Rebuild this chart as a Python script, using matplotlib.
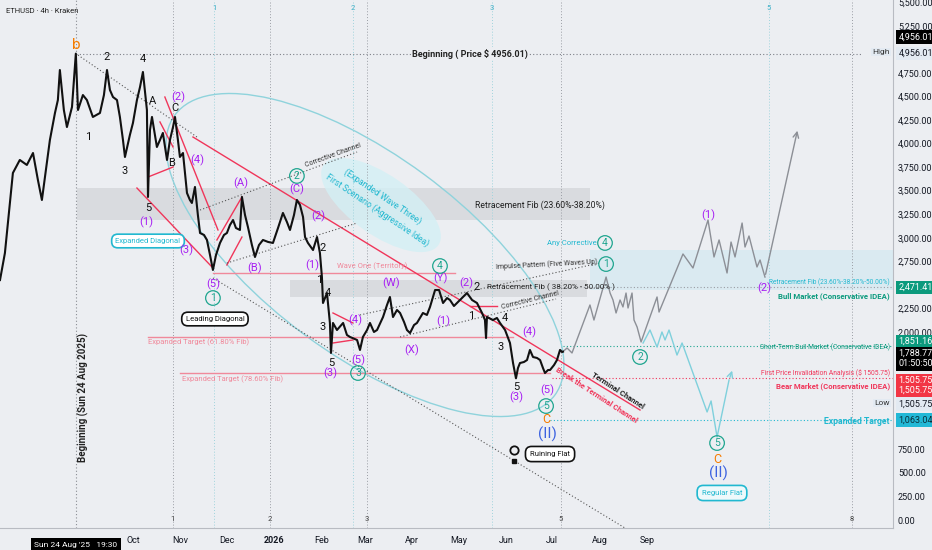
import matplotlib.pyplot as plt
from matplotlib.patches import Ellipse, Rectangle
from matplotlib.transforms import blended_transform_factory, IdentityTransform

plt.rcParams['font.family'] = ['Roboto', 'DejaVu Sans']

# ETHUSD 4h (Kraken) - x is days from 1 Oct 2025, y is USD
price_day = [-86.6, -83.4, -82.1, -78.2, -73.7, -69.1, -65.1, -61.9, -59.3, -56.7,
             -54.1, -50.8, -48.9, -47.6, -45.0, -43.0, -39.7, -37.2, -35.8, -32.6,
             -30.0, -26.1, -21.5, -18.9, -16.9, -15.0, -13.0, -10.4, -8.5, -6.5,
             -5.2, -2.0, 0.0, 2.6, 4.6, 6.5, 9.1, 9.8, 11.1, 12.4,
             15.6, 17.6, 19.5, 22.2, 24.1, 26.1, 27.4, 29.3, 30.6, 32.6,
             35.2, 37.1, 38.4, 40.4, 42.3, 43.7, 46.3, 48.2, 50.2, 52.1,
             54.1, 56.7, 59.3, 61.2, 63.2, 65.2, 67.1, 69.7, 71.0, 73.0,
             74.9, 77.5, 79.5, 82.1, 84.7, 88.0, 91.2, 94.5, 97.7, 100.3,
             102.3, 104.9, 106.8, 108.8, 110.8, 112.1, 114.0, 117.3, 119.9, 121.8,
             123.1, 123.8, 126.4, 128.3, 129.0, 130.3, 132.9, 136.9, 139.4, 141.4,
             146.0, 147.9, 149.8, 152.5, 154.4, 157.0, 159.0, 162.9, 165.5, 167.4,
             169.4, 172.0, 174.0, 176.6, 178.5, 180.5, 183.1, 185.0, 188.9, 191.5,
             193.5, 196.8, 199.4, 202.0, 204.6, 206.5, 209.1, 211.1, 215.0, 217.6,
             220.9, 224.1, 227.4, 229.3, 230.0, 230.6, 234.5, 237.1, 239.1, 242.4,
             245.6, 247.6, 249.5, 250.8, 252.1, 254.7, 256.7, 258.6, 260.6, 263.2,
             265.2, 267.1, 268.4, 270.4, 271.7, 274.3, 276.2, 278.2, 279.5, 280.1]
price_usd = [2550, 2837, 3050, 3688, 3826, 3773, 3900, 3613, 3401, 3719,
             4038, 4325, 4463, 4782, 4357, 4176, 4389, 4956, 4357, 4516,
             4463, 4283, 4325, 4516, 4782, 4570, 4495, 4463, 4283, 4038,
             3858, 4091, 4219, 4463, 4601, 4761, 4357, 3433, 4145, 4283,
             3964, 4038, 4113, 3826, 4038, 4176, 4283, 4038, 3858, 3900,
             3475, 3401, 3369, 3539, 3241, 3050, 3029, 2976, 2816, 2657,
             2816, 2944, 3029, 3050, 3135, 3188, 3103, 3082, 3433, 3241,
             3114, 2922, 2795, 2922, 2976, 2955, 2944, 3103, 3263, 3167,
             3082, 3241, 3401, 3348, 3220, 3007, 2944, 2869, 3007, 2837,
             2582, 2306, 2412, 2094, 1775, 2094, 2019, 2094, 1966, 1945,
             1913, 1807, 1945, 2019, 2094, 1998, 2019, 2157, 2285, 2370,
             2157, 2232, 2200, 2104, 2019, 1987, 2072, 2094, 2200, 2179,
             2264, 2444, 2444, 2306, 2359, 2338, 2274, 2306, 2370, 2412,
             2338, 2306, 2200, 2125, 1934, 2157, 2125, 2147, 2094, 2019,
             1881, 1668, 1505.75, 1615, 1668, 1679, 1700, 1807, 1732, 1722,
             1700, 1615, 1562, 1594, 1594, 1647, 1700, 1807, 1785, 1788.77]

# projected paths
bull_day = [280.1, 282.8, 286.0, 297.7, 300.3, 308.2, 310.8, 312.7, 314.7, 317.3,
            319.2, 321.2, 322.5, 325.1, 326.4, 328.4, 331.0, 341.4, 342.7, 358.3,
            364.8, 374.6, 378.5, 381.8, 387.0, 389.6, 392.2, 396.8, 398.7, 401.3,
            406.5, 408.5, 411.7, 433.2]
bull_usd = [1789, 1828, 1775, 2285, 2125, 2582, 2412, 2338, 2200, 2338,
            2264, 2412, 2253, 2412, 2125, 2051, 1892, 2370, 2210, 2827,
            2678, 3188, 2795, 2976, 2625, 2954, 2795, 3156, 2901, 3018,
            2689, 2763, 2582, 4166]
bear_day = [332.3, 336.8, 341.4, 344.6, 346.6, 349.2, 354.4, 357.7, 374.0, 376.6,
            380.5, 388.3, 390.9]
bear_usd = [1881, 2019, 1838, 1998, 1913, 2019, 1753, 1881, 1148, 1265,
            882, 1488, 1615]

beginning_day = -37.2
high_price = 4956.01
low_price = 1505.75
last_price = 1788.77
bull_level = 2471.41
short_bull_level = 1851.16
invalidation_level = 1505.75
expanded_target = 1063.04

month_days = [0, 31, 61, 92, 123, 151, 182, 212, 243, 273, 304, 335]
month_labels = ['Oct', 'Nov', 'Dec', '2026', 'Feb', 'Mar', 'Apr', 'May', 'Jun', 'Jul', 'Aug', 'Sep']
price_ticks = [0, 250, 500, 750, 2000, 2250, 2750, 3000, 3250, 3500, 3750,
               4000, 4250, 4500, 4750, 5250, 5500]

zone_steps = [1, 2, 3, 5, 8]
zone_unit_low = 63.2
zone_unit_high = 90.3

black_labels = [('2', -16.9, 4920), ('4', 6.5, 4899), ('1', -29.3, 4070), ('3', -5.2, 3709),
                ('5', 9.8, 3316), ('A', 13.0, 4453), ('B', 25.4, 3794), ('C', 27.4, 4378),
                ('2', 123.8, 2891), ('1', 121.2, 2550), ('4', 127.0, 2412), ('3', 123.8, 2051),
                ('5', 129.0, 1668), ('2', 224.0, 2476), ('1', 220.2, 2168), ('4', 242.4, 2147),
                ('3', 239.8, 1838), ('5', 249.5, 1413)]
purple_labels = [('(1)', 8.5, 3167), ('(2)', 29.3, 4495), ('(4)', 41.7, 3826), ('(3)', 34.5, 2869),
                 ('(5)', 52.1, 2508), ('(A)', 70.4, 3581), ('(B)', 79.5, 2678), ('(C)', 106.8, 3518),
                 ('(2)', 120.5, 3231), ('(1)', 116.6, 2710), ('(3)', 128.3, 1562), ('(4)', 144.6, 2125),
                 ('(5)', 146.6, 1700), ('(W)', 168.1, 2519), ('(X)', 181.8, 1807), ('(Y)', 200.0, 2572),
                 ('(2)', 217.0, 2520), ('(1)', 202.0, 2115), ('(3)', 249.5, 1307), ('(4)', 258.0, 1998),
                 ('(5)', 269.7, 1381), ('(1)', 374.6, 3241), ('(2)', 411.5, 2465)]
circle_labels = [('1', 52.1, 2359), ('2', 106.8, 3656), ('3', 146.6, 1562), ('4', 200.0, 2699),
                 ('5', 269.1, 1211), ('4', 307.5, 2944), ('1', 308.2, 2720), ('2', 330.3, 1732),
                 ('5', 380.5, 818)]
orange_labels = [('b', -37.2, 5050, 11), ('C', 269.1, 1063, 9), ('C', 380.5, 648, 9)]
blue_labels = [('(II)', 269.7, 914), ('(II)', 381.1, 499)]

# trend lines: (day0, usd0, day1, usd1)
red_lines = [(39.1, 4070, 330.3, 1169),
             (2.6, 3528, 52.1, 2678), (20.8, 4495, 55.4, 3082), (17.6, 4230, 26.1, 3964),
             (9.8, 3645, 26.1, 3751), (54.7, 2976, 71.0, 3433), (61.2, 2710, 71.0, 3007),
             (130.3, 2200, 143.3, 2094), (130.3, 1881, 143.3, 1913), (219.6, 2274, 237.1, 2274)]
dotted_lines = [(-35.8, 4941, 41.7, 4070), (43.7, 3294, 146.0, 3911), (61.2, 2731, 146.0, 3156),
                (147.9, 2179, 304.2, 2731), (174.0, 1945, 275.6, 2349), (52.1, 2572, 320.5, -85)]

pink = '#f0899b'
red = '#f0365a'
purple = '#a71ff2'
teal = '#1fa58f'
orange = '#f57c00'
blue = '#3c62e0'
cyan = '#21b8d0'
green = '#0b9a7d'
bg = '#eceef2'

fig = plt.figure(figsize=(9.32, 5.5), dpi=100)
fig.patch.set_facecolor(bg)
ax = fig.add_axes([0, 22 / 550, 893 / 932, 528 / 550])
ax.set_facecolor(bg)
ax.set_xlim(-86.6, 495.1)
ax.set_ylim(-85, 5526)

# boxes / bands
ax.add_patch(Rectangle((-36.5, 3188), 297.7 + 36.5, 3528 - 3188, fc='#d3d5d9', ec='none', alpha=0.75, zorder=0))
ax.add_patch(Rectangle((102.3, 2370), 295.8 - 102.3, 2550 - 2370, fc='#d3d5d9', ec='none', alpha=0.75, zorder=0))
ax.add_patch(Rectangle((297.7, 2444), 495.1 - 297.7, 2870 - 2444, fc='#d6eaf1', ec='none', alpha=0.8, zorder=0))

# vertical time zones
ax.axvline(beginning_day, color='#8a8d94', ls=(0, (1, 2)), lw=0.8, zorder=1)
for n in zone_steps:
    ax.axvline(beginning_day + n * zone_unit_low, color='#9a9da4', ls=(0, (1, 2)), lw=0.7, zorder=1)
    ax.text(beginning_day + n * zone_unit_low, 0.012, str(n), transform=blended_transform_factory(ax.transData, ax.transAxes),
            ha='center', va='bottom', fontsize=5.5, color='#444')
for n in zone_steps[:4]:
    ax.axvline(beginning_day + n * zone_unit_high, color='#9fd3dc', ls=(0, (1, 2)), lw=0.7, zorder=1)
    ax.text(beginning_day + n * zone_unit_high, 0.99, str(n), transform=blended_transform_factory(ax.transData, ax.transAxes),
            ha='center', va='top', fontsize=5.5, color='#3fb0c8')

# ellipse and faint idea blob
fig.canvas.draw()
cx, cy = ax.transData.transform((151.1, 2816))
ax.add_patch(Ellipse((cx, cy), 472, 200, angle=-36.4, transform=IdentityTransform(),
                     fc='none', ec='#8fd3dc', lw=1.0, zorder=1))
bx, by = ax.transData.transform((161.6, 3347))
ax.add_patch(Ellipse((bx, by), 140, 60, angle=-35, transform=IdentityTransform(),
                     fc='#d3f0f5', ec='none', alpha=0.8, zorder=0))

# horizontal levels
ax.plot([beginning_day, 475], [high_price, high_price], color='#7d8088', ls=(0, (1, 2)), lw=0.8)
ax.plot([52.1, 209.8], [2630, 2630], color=pink, lw=1.0)
ax.plot([9.8, 247.6], [1945, 1945], color=pink, lw=1.0)
ax.plot([30.6, 271.7], [1565, 1565], color=pink, lw=1.0)
ax.plot([273, 495.1], [invalidation_level, invalidation_level], color=red, ls=(0, (1, 2)), lw=0.8)
ax.plot([280.1, 495.1], [short_bull_level, short_bull_level], color=teal, ls=(0, (1, 2)), lw=0.8)
ax.plot([278, 495.1], [bull_level, bull_level], color='#9a9da4', ls=(0, (1, 2)), lw=0.8)
ax.plot([271.7, 495.1], [expanded_target, expanded_target], color=cyan, ls=(0, (1, 2)), lw=0.8)

for d0, p0, d1, p1 in red_lines:
    ax.plot([d0, d1], [p0, p1], color=red, lw=1.0, zorder=2)
for d0, p0, d1, p1 in dotted_lines:
    ax.plot([d0, d1], [p0, p1], color='#555', ls=(0, (1, 2)), lw=0.8, zorder=2)

# price and projections
ax.plot(price_day, price_usd, color='#111', lw=1.5, zorder=4)
ax.plot(bull_day[:-1], bull_usd[:-1], color='#8c8f96', lw=1.0, zorder=3)
ax.annotate('', xy=(bull_day[-1], bull_usd[-1]), xytext=(bull_day[-2], bull_usd[-2]),
            arrowprops=dict(arrowstyle='->', color='#8c8f96', lw=1.0))
ax.plot(bear_day[:-1], bear_usd[:-1], color='#7fd0dc', lw=1.0, zorder=3)
ax.annotate('', xy=(bear_day[-1], bear_usd[-1]), xytext=(bear_day[-2], bear_usd[-2]),
            arrowprops=dict(arrowstyle='->', color='#7fd0dc', lw=1.0))

# wave labels
for t, d, p in black_labels:
    ax.text(d, p, t, ha='center', va='center', fontsize=8, color='#111', zorder=5)
for t, d, p in purple_labels:
    ax.text(d, p, t, ha='center', va='center', fontsize=8, color=purple, zorder=5)
for t, d, p in circle_labels:
    ax.text(d, p, t, ha='center', va='center', fontsize=7.5, color=teal, zorder=5,
            bbox=dict(boxstyle='circle,pad=0.22', fc='none', ec=teal, lw=0.9))
for t, d, p, s in orange_labels:
    ax.text(d, p, t, ha='center', va='center', fontsize=s, color=orange, zorder=5)
for t, d, p in blue_labels:
    ax.text(d, p, t, ha='center', va='center', fontsize=11, color=blue, zorder=5)

# callout boxes
ax.text(9.8, 2965, 'Expanded Diagonal', ha='center', va='center', fontsize=5.5, color=cyan,
        bbox=dict(boxstyle='round,pad=0.5,rounding_size=0.8', fc='white', ec=cyan, lw=1.2))
ax.text(53.4, 2136, 'Leading Diagonal', ha='center', va='center', fontsize=5.5, color='#111',
        bbox=dict(boxstyle='round,pad=0.5,rounding_size=0.8', fc='white', ec='#111', lw=1.2))
ax.text(271.7, 701, 'Ruining Flat', ha='center', va='center', fontsize=5.5, color='#111',
        bbox=dict(boxstyle='round,pad=0.6,rounding_size=0.8', fc='white', ec='#111', lw=1.2))
ax.text(383.7, 287, 'Regular Flat', ha='center', va='center', fontsize=5.5, color=cyan,
        bbox=dict(boxstyle='round,pad=0.6,rounding_size=0.8', fc='#eef9fb', ec=cyan, lw=1.2))
ax.plot(248.2, 740, marker='o', ms=6, mfc='none', mec='#111', mew=1.3, zorder=5)
ax.plot(248.2, 630, marker='s', ms=2.5, color='#111', zorder=5)

# texts
ax.text(219.6, high_price, 'Beginning ( Price $ 4956.01)', ha='center', va='center', fontsize=6.5,
        fontweight='bold', color='#222', bbox=dict(fc=bg, ec='none', pad=1))
ax.text(beginning_day + 4.6, 1307, 'Beginning (Sun 24 Aug 2025)', rotation=90, ha='center', va='center',
        fontsize=7, fontweight='bold', color='#222')
ax.text(265.2, 3347, 'Retracement Fib (23.60%-38.20%)', ha='center', va='center', fontsize=6.2, color='#222')
ax.text(230.5, 2476, 'Retracement Fib ( 38.20% - 50.00% )', ha='left', va='center', fontsize=5.8, color='#222')
ax.text(155.7, 2699, 'Wave One (Territory)', ha='center', va='center', fontsize=5.5, color=pink)
ax.text(9.8, 1892, 'Expanded Target (61.80% Fib)', ha='left', va='center', fontsize=5.5, color=pink)
ax.text(31.9, 1498, 'Expanded Target (78.60% Fib)', ha='left', va='center', fontsize=5.5, color=pink)
ax.text(130.3, 3870, 'Corrective Channel', ha='center', va='center', fontsize=5, color='#333', rotation=20)
ax.text(258.6, 2330, 'Corrective Channel', ha='center', va='center', fontsize=5, color='#333', rotation=14)
ax.text(302.9, 2720, 'Impulse Pattern (Five Waves Up)', ha='right', va='center', fontsize=5, color='#333', rotation=3)
ax.text(302.3, 2944, 'Any Corrective', ha='right', va='center', fontsize=5.5, color=cyan)
ax.text(162.9, 3433, '(Expanded Wave Three)', ha='center', va='center', fontsize=6.2, color=cyan, rotation=-34)
ax.text(159.0, 3294, 'First Scenario (Aggressive Idea)', ha='center', va='center', fontsize=6.2, color=cyan, rotation=-34)
ax.text(316.0, 1371, 'Terminal Channel', ha='center', va='center', fontsize=5.6, fontweight='bold', color='#222', rotation=-33)
ax.text(302.3, 1328, 'Break the Terminal Channel', ha='center', va='center', fontsize=5.6, fontweight='bold', color=red, rotation=-33)

right_edge = 493
right_texts = [('Retracement Fib (23.60%-38.20%-50.00%)', 2525, 4.7, 'normal', cyan),
               ('Bull Market (Conservative IDEA)', 2380, 5.6, 'bold', green),
               ('Short-Term Bull Market (Conservative IDEA)', 1838, 4.9, 'normal', green),
               ('First Price Invalidation Analysis ($ 1505.75)', 1562, 4.9, 'normal', red),
               ('Bear Market (Conservative IDEA)', 1424, 5.6, 'bold', red),
               ('Expanded Target', 1052, 6.2, 'bold', cyan)]
for t, p, s, w, c in right_texts:
    ax.text(right_edge, p, t, ha='right', va='center', fontsize=s, fontweight=w, color=c)
ax.text(right_edge, 4973, 'High', ha='right', va='center', fontsize=6, color='#333', bbox=dict(fc='#e3eaf2', ec='none', pad=1))
ax.text(right_edge, 1243, 'Low', ha='right', va='center', fontsize=6, color='#333', bbox=dict(fc='#e3eaf2', ec='none', pad=1))

# axes
ax.yaxis.tick_right()
ax.set_yticks(price_ticks)
ax.set_yticklabels([f'{v:,.2f}' for v in price_ticks])
ax.set_xticks(month_days)
ax.set_xticklabels(month_labels)
ax.tick_params(axis='both', length=0, labelsize=6.5, colors='#131722')
ax.tick_params(axis='x', pad=6)
ax.get_xticklabels()[3].set_fontweight('bold')
for s in ['top', 'left']:
    ax.spines[s].set_visible(False)
ax.spines['right'].set_color('#b8bbc2')
ax.spines['bottom'].set_color('#b8bbc2')

trans = blended_transform_factory(ax.transAxes, ax.transData)
price_tags = [('4,956.01', high_price, 12, 'black', 'white'),
              ('4,956.01', high_price, 0, '#e3eaf2', '#131722'),
              ('2,471.41', bull_level, 0, '#0b9a7d', 'white'),
              ('1,851.16', short_bull_level, 3, '#0b9a7d', 'white'),
              ('1,788.77\n01:50:50', last_price, -5, 'black', 'white'),
              ('1,505.75', invalidation_level, -1.5, '#f23645', 'white'),
              ('1,505.75', invalidation_level, -8.5, '#f23645', 'white'),
              ('1,505.75', low_price, -18.5, '#e3eaf2', '#131722'),
              ('1,063.04', expanded_target, 0, '#22b8d6', '#0b2f3a')]
for txt, p, dy, fc, tc in price_tags:
    ax.annotate(txt, xy=(1, p), xycoords=trans, xytext=(4, dy), textcoords='offset points',
                ha='left', va='center', fontsize=6.5, color=tc, annotation_clip=False,
                bbox=dict(boxstyle='square,pad=0.25', fc=fc, ec='none'))

ax.annotate("Sun 24 Aug '25   19:30", xy=(beginning_day, 0), xycoords=('data', 'axes fraction'),
            xytext=(0, -12), textcoords='offset points', ha='center', va='center', fontsize=6,
            color='white', annotation_clip=False, bbox=dict(boxstyle='square,pad=0.4', fc='black', ec='none'))
fig.text(0.006, 0.985, 'ETHUSD · 4h · Kraken', ha='left', va='top', fontsize=5.5, color='#222')

fig.savefig('out.png', dpi=100, facecolor=bg)
